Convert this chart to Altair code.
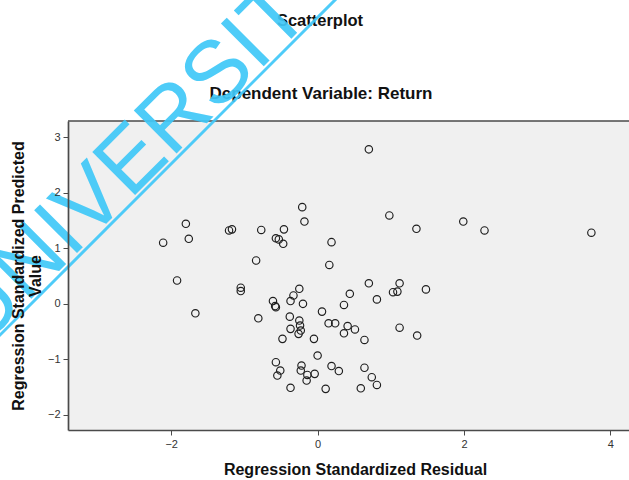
import altair as alt
import pandas as pd

# Regression standardized residuals (x) and standardized predicted values (y)
resid = [0.70, -0.21, -0.18, 0.98, -1.80, -1.76, -2.11, -1.21, -1.17, -0.77,
         -0.46, -0.57, -0.53, -0.47, 0.19, 1.35, 1.99, 2.28, 3.74, -0.84,
         0.16, -1.92, -1.05, -1.05, -1.67, -0.25, -0.33, -0.37, -0.61, -0.58,
         -0.57, -0.20, 0.70, 1.12, 0.44, 1.03, 1.09, 1.48, 0.81, 0.36,
         0.06, -0.81, -0.38, -0.25, -0.24, -0.37, -0.23, -0.26, 0.15, 0.24,
         0.41, 0.51, 0.36, 1.12, 1.36, -0.48, -0.05, 0.64, 0.00, -0.57,
         -0.22, 0.19, 0.64, -0.51, -0.23, 0.29, -0.55, -0.14, -0.04, -0.15,
         0.74, 0.81, -0.37, 0.11, 0.59]
pred = [2.78, 1.74, 1.48, 1.59, 1.44, 1.17, 1.10, 1.32, 1.34, 1.33,
        1.34, 1.18, 1.16, 1.08, 1.11, 1.35, 1.48, 1.32, 1.28, 0.78,
        0.70, 0.42, 0.29, 0.23, -0.17, 0.27, 0.15, 0.05, 0.05, -0.04,
        -0.06, 0.00, 0.37, 0.37, 0.18, 0.21, 0.22, 0.26, 0.08, -0.02,
        -0.14, -0.26, -0.23, -0.30, -0.39, -0.45, -0.48, -0.54, -0.35, -0.35,
        -0.40, -0.46, -0.53, -0.43, -0.57, -0.63, -0.63, -0.65, -0.93, -1.05,
        -1.11, -1.12, -1.15, -1.20, -1.20, -1.21, -1.29, -1.28, -1.26, -1.38,
        -1.32, -1.46, -1.51, -1.53, -1.52]

x_ticks = [-2, 0, 2, 4]
y_ticks = [-2, -1, 0, 1, 2, 3]

chart_title = "Scatterplot"
chart_subtitle = "Dependent Variable: Return"

FONT = "Liberation Sans"
W, H = 561, 309
AQUA = "#40c8f8"
FRAME = "#4a4a4a"

df = pd.DataFrame({"resid": resid, "pred": pred})

points = alt.Chart(df).mark_point(
    shape="circle", filled=False, size=55, strokeWidth=1.15, color="#1e1e1e", opacity=1
).encode(
    x=alt.X(
        "resid:Q",
        scale=alt.Scale(domain=[-3.41, 4.254], nice=False, zero=False),
        axis=alt.Axis(
            values=x_ticks, grid=False, tickSize=5, labelPadding=3,
            labelFont=FONT, labelFontSize=11, labelColor="#333333",
            domainColor=FRAME, domainWidth=1.7, tickColor=FRAME,
            title="Regression Standardized Residual", titleFont=FONT,
            titleFontSize=16, titleFontWeight="bold", titleColor="#111111",
            titlePadding=12, titleX=287, titleAlign="center",
        ),
    ),
    y=alt.Y(
        "pred:Q",
        scale=alt.Scale(domain=[-2.27, 3.29], nice=False, zero=False),
        axis=alt.Axis(
            values=y_ticks, grid=False, tickSize=5, labelPadding=3,
            labelFont=FONT, labelFontSize=11, labelColor="#333333",
            domainColor=FRAME, domainWidth=1.7, tickColor=FRAME,
            title=["Regression Standardized Predicted", "Value"], titleFont=FONT,
            titleFontSize=16, titleFontWeight="bold", titleColor="#111111",
            titleLineHeight=16.5, titlePadding=4, zindex=1,
        ),
    ),
)

# top edge of the plot frame
top_edge = alt.Chart(pd.DataFrame({"k": [0]})).mark_rule(
    color=FRAME, strokeWidth=1.7
).encode(x=alt.value(0), x2=alt.value(W), y=alt.value(0))

# heading lines above the plot
head_df = pd.DataFrame({"label": [chart_title]})
sub_df = pd.DataFrame({"label": [chart_subtitle]})
heading = alt.Chart(head_df).mark_text(
    font=FONT, fontSize=16.5, fontWeight="bold", color="#111111",
    align="center", baseline="alphabetic",
).encode(x=alt.value(252), y=alt.value(-95), text="label:N")
subheading = alt.Chart(sub_df).mark_text(
    font=FONT, fontSize=17, fontWeight="bold", color="#111111",
    align="center", baseline="alphabetic",
).encode(x=alt.value(253), y=alt.value(-22), text="label:N")

# diagonal watermark with its underline
mark_df = pd.DataFrame({"label": ["UNIVERSITY"]})
watermark = alt.Chart(mark_df).mark_text(
    font=FONT, fontSize=88, fontWeight="normal", color=AQUA, opacity=0.92,
    angle=315, align="center", baseline="alphabetic",
).encode(x=alt.value(100), y=alt.value(41), text="label:N")

underline = alt.Chart(mark_df).mark_rule(
    color=AQUA, strokeWidth=3, opacity=0.92
).encode(x=alt.value(-90), y=alt.value(236), x2=alt.value(290), y2=alt.value(-144))

chart = alt.layer(points, top_edge, heading, subheading, watermark, underline).properties(
    width=W,
    height=H,
    autosize=alt.AutoSizeParams(type="none"),
    padding={"left": 68, "top": 121, "right": 0, "bottom": 50},
    background="white",
).configure_view(fill="#f0f0f0", stroke=None)

chart.save("out.html", embed_options={"renderer": "svg", "actions": False})
